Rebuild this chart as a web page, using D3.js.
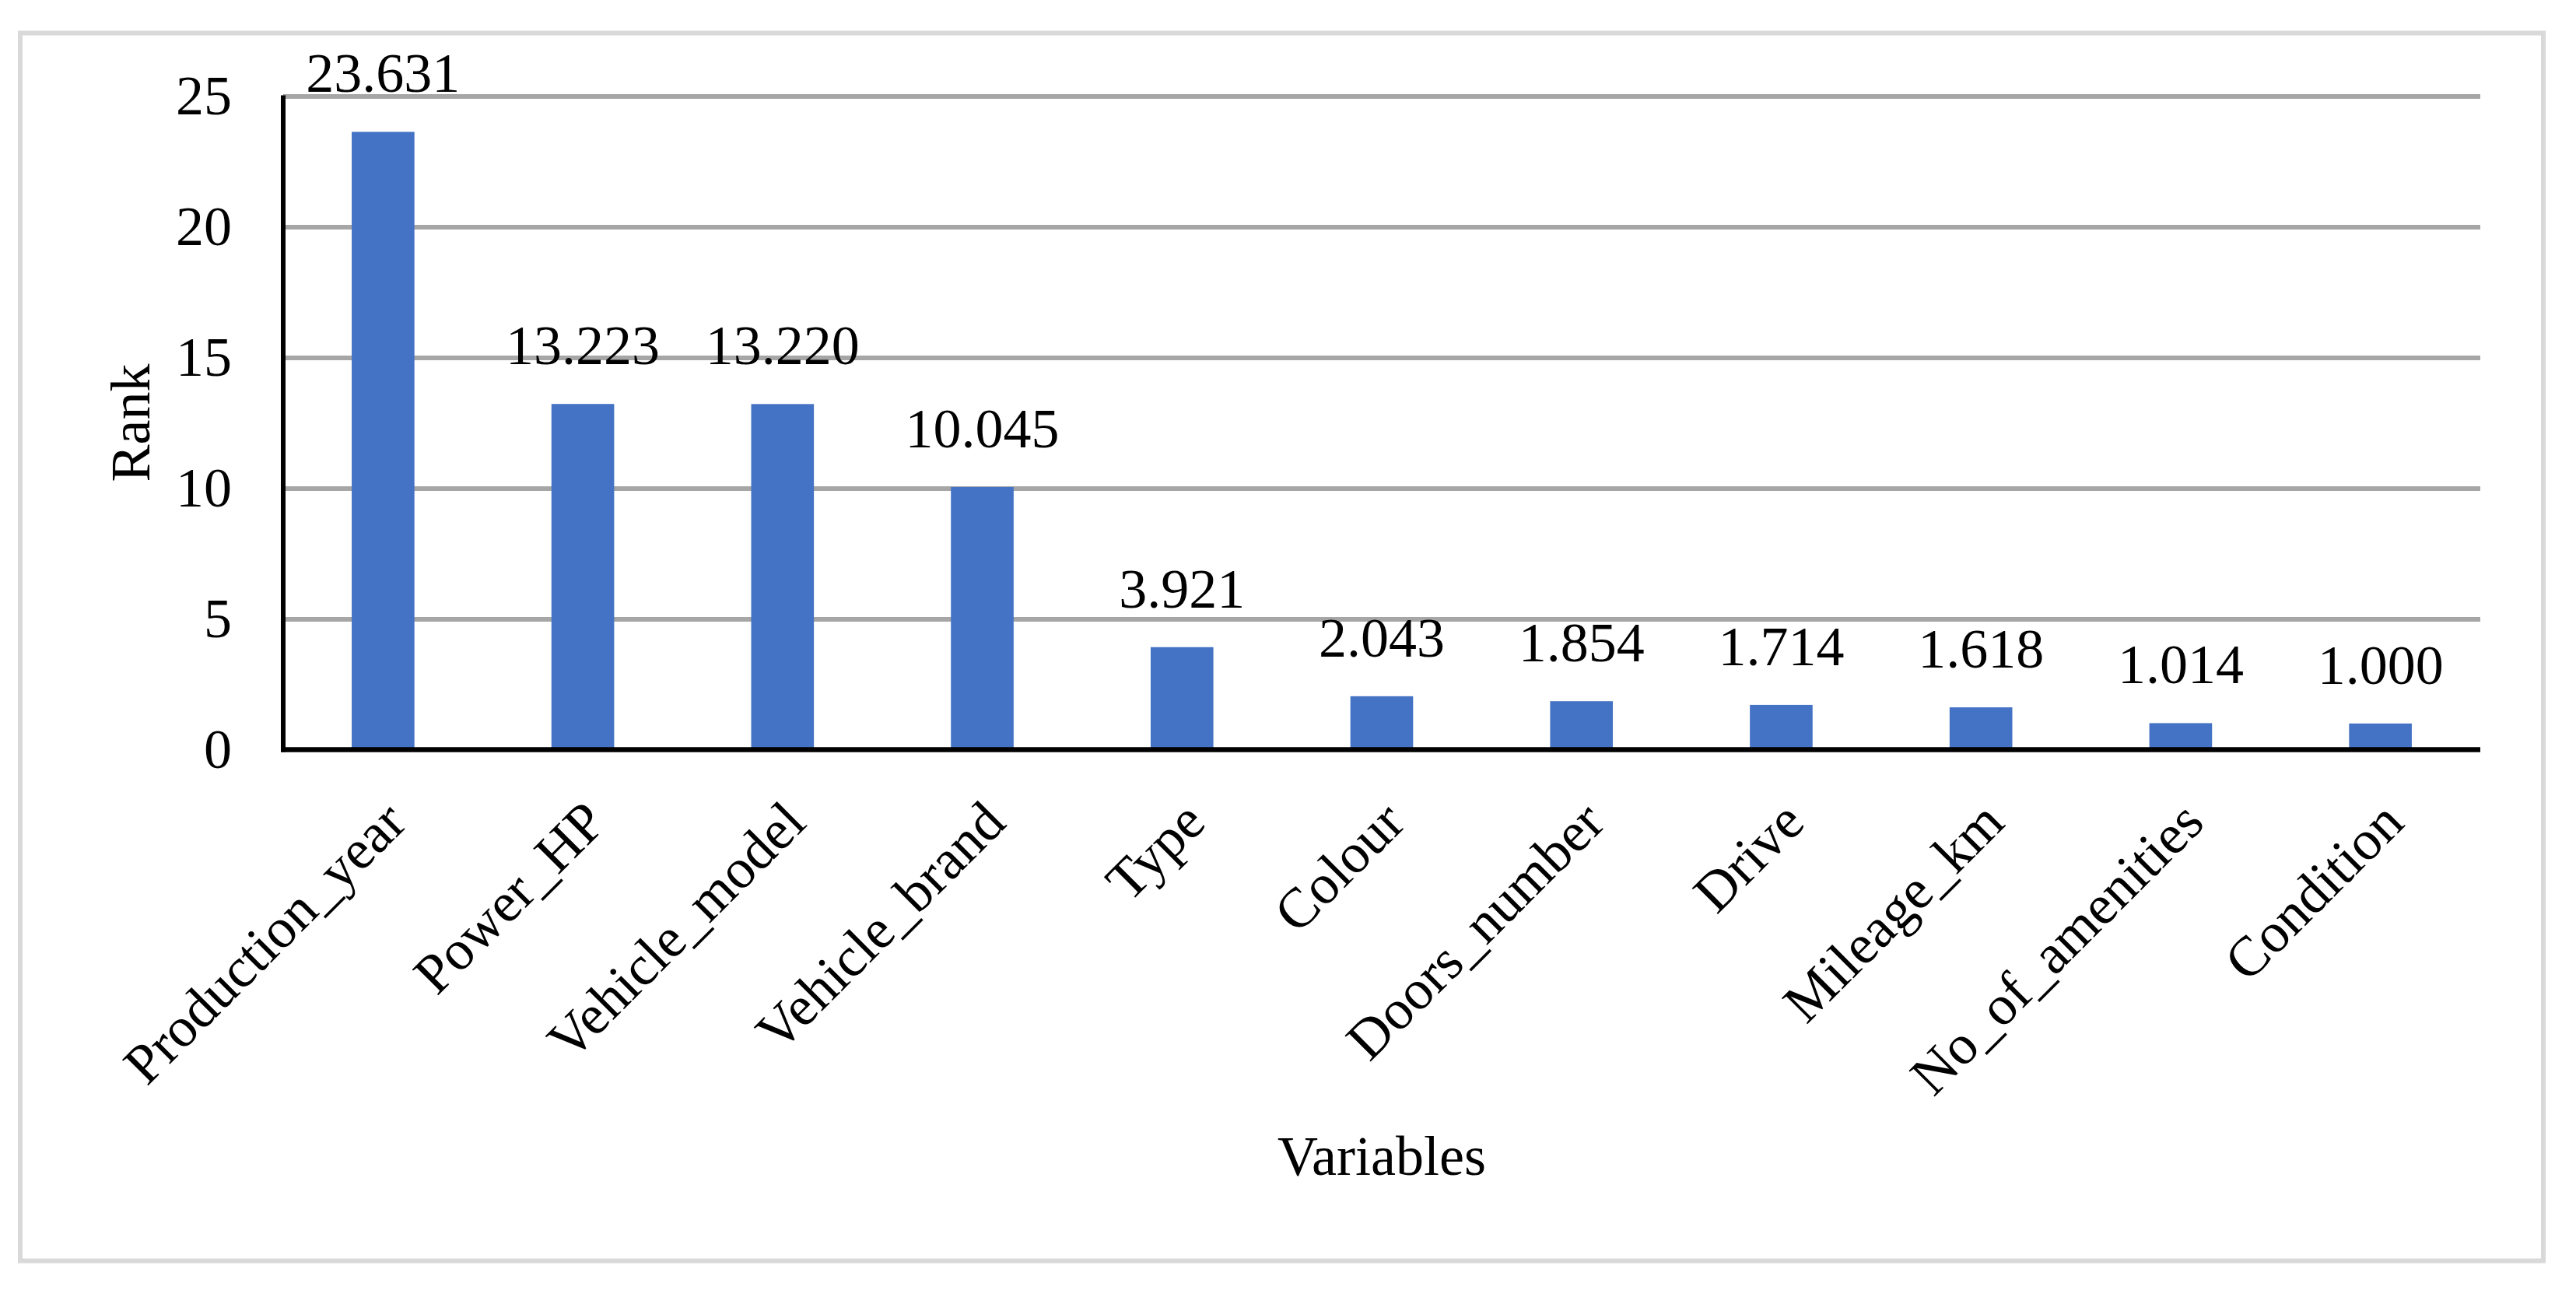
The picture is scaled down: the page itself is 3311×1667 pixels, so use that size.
<!DOCTYPE html>
<html>
<head>
<meta charset="utf-8">
<script src="https://cdn.jsdelivr.net/npm/d3@7"></script>
<style>
  html, body { margin: 0; padding: 0; background: #ffffff; }
  svg { display: block; }
  text { font-family: "Liberation Serif", "Times New Roman", serif; fill: #000; }
</style>
</head>
<body>
<svg id="chart" width="3311" height="1667"></svg>
<script>
// ---- data ----
const categories = ["Production_year", "Power_HP", "Vehicle_model", "Vehicle_brand", "Type", "Colour",
                    "Doors_number", "Drive", "Mileage_km", "No_of_amenities", "Condition"];
const values = [23.631, 13.223, 13.220, 10.045, 3.921, 2.043, 1.854, 1.714, 1.618, 1.014, 1.000];
const yTicks = [0, 5, 10, 15, 20, 25];
const xTitle = "Variables";
const yTitle = "Rank";

// ---- layout ----
const W = 3311, H = 1667;
const plot = { left: 364, right: 3188, top: 123.5, bottom: 963.5 };
const fontSize = 72;

const svg = d3.select("#chart");
svg.append("rect").attr("x", 0).attr("y", 0).attr("width", W).attr("height", H).attr("fill", "#fff");

// outer frame
svg.append("rect")
  .attr("x", 26).attr("y", 42.5)
  .attr("width", 3269 - 26).attr("height", 1620.5 - 42.5)
  .attr("fill", "none").attr("stroke", "#d9d9d9").attr("stroke-width", 6);

const x = d3.scaleBand().domain(categories).range([plot.left, plot.right])
  .paddingInner(0.686).paddingOuter(0.343);
const y = d3.scaleLinear().domain([0, 25]).range([plot.bottom, plot.top]);

// gridlines
const grid = svg.append("g").attr("transform", `translate(${plot.left},0)`)
  .call(d3.axisLeft(y).tickValues(yTicks.filter(t => t > 0)).tickSize(-(plot.right - plot.left)).tickFormat(""));
grid.select(".domain").remove();
grid.selectAll(".tick line").attr("stroke", "#a6a6a6").attr("stroke-width", 6);

// bars
svg.append("g").selectAll("rect").data(values).join("rect")
  .attr("x", (d, i) => x(categories[i]))
  .attr("width", x.bandwidth())
  .attr("y", d => y(d))
  .attr("height", d => y(0) - y(d))
  .attr("fill", "#4472c4");

// y axis labels
const yAxis = svg.append("g").attr("transform", `translate(${plot.left},0)`)
  .call(d3.axisLeft(y).tickValues(yTicks).tickSize(0).tickPadding(66).tickFormat(d3.format("d")));
yAxis.select(".domain").remove();
yAxis.selectAll("text").style("font-size", fontSize + "px")
  .style("font-family", '"Liberation Serif", "Times New Roman", serif').attr("fill", "#000");

// axis lines
svg.append("line").attr("x1", plot.left).attr("x2", plot.left)
  .attr("y1", plot.top - 1).attr("y2", plot.bottom + 3)
  .attr("stroke", "#000").attr("stroke-width", 6);
svg.append("line").attr("x1", plot.left - 3).attr("x2", plot.right)
  .attr("y1", plot.bottom).attr("y2", plot.bottom)
  .attr("stroke", "#000").attr("stroke-width", 6.5);

// x axis category labels (rotated)
const xAxis = svg.append("g").attr("transform", `translate(0,${plot.bottom})`)
  .call(d3.axisBottom(x).tickSize(0).tickFormat(d => d));
xAxis.select(".domain").remove();
xAxis.selectAll(".tick text")
  .attr("text-anchor", "end")
  .attr("dy", null)
  .attr("y", 0)
  .attr("transform", "translate(16,80) rotate(-45)")
  .attr("dominant-baseline", "central")
  .style("font-size", fontSize + "px")
  .style("font-family", '"Liberation Serif", "Times New Roman", serif')
  .attr("fill", "#000");

// data labels
svg.append("g").selectAll("text").data(values).join("text")
  .attr("x", (d, i) => x(categories[i]) + x.bandwidth() / 2)
  .attr("y", d => y(d) - 51)
  .attr("text-anchor", "middle")
  .style("font-size", fontSize + "px")
  .text(d => d3.format(".3f")(d));

// axis titles
svg.append("text")
  .attr("transform", `translate(192,${(plot.top + plot.bottom) / 2}) rotate(-90)`)
  .attr("text-anchor", "middle")
  .style("font-size", fontSize + "px")
  .text(yTitle);

svg.append("text")
  .attr("x", 1776).attr("y", 1510)
  .attr("text-anchor", "middle")
  .style("font-size", fontSize + "px")
  .text(xTitle);
</script>
</body>
</html>
